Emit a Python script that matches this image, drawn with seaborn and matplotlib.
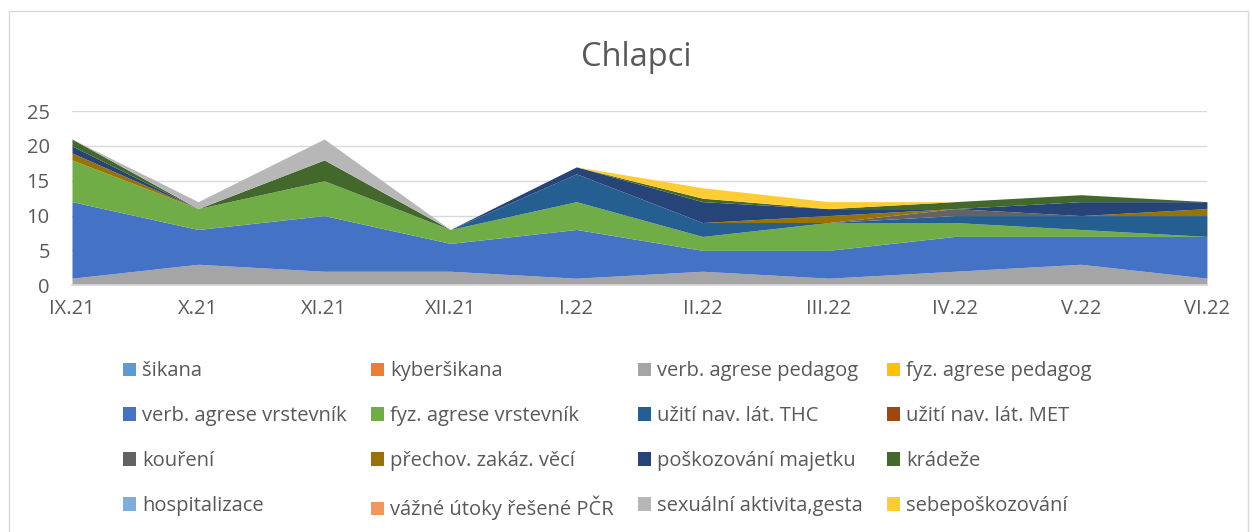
import matplotlib
matplotlib.use("Agg")
import matplotlib.pyplot as plt
import seaborn as sns
import pandas as pd
from matplotlib.patches import Rectangle

# data
months = ["IX.21", "X.21", "XI.21", "XII.21", "I.22", "II.22", "III.22", "IV.22", "V.22", "VI.22"]

sikana = [0, 0, 0, 0, 0, 0, 0, 0, 0, 0]
kybersikana = [0, 0, 0, 0, 0, 0, 0, 0, 0, 0]
verb_pedagog = [1, 3, 2, 2, 1, 2, 1, 2, 3, 1]
fyz_pedagog = [0, 0, 0, 0, 0, 0, 0, 0, 0, 0]
verb_vrstevnik = [11, 5, 8, 4, 7, 3, 4, 5, 4, 6]
fyz_vrstevnik = [6, 3, 5, 2, 4, 2, 4, 2, 1, 0]
thc = [0, 0, 0, 0, 4, 2, 0, 1, 2, 3]
met = [0, 0, 0, 0, 0, 0, 0, 0, 0, 0]
koureni = [0, 0, 0, 0, 0, 0, 0, 1, 0, 0]
prechov = [1, 0, 0, 0, 0, 0, 1, 0, 0, 1]
poskozovani = [1, 0, 0, 0, 1, 3, 1, 0, 2, 1]
kradeze = [1, 0, 3, 0, 0, 0.5, 0, 1, 1, 0]
hospitalizace = [0, 0, 0, 0, 0, 0, 0, 0, 0, 0]
vazne_utoky = [0, 0, 0, 0, 0, 0, 0, 0, 0, 0]
sexualni = [0, 1, 3, 0, 0, 0, 0, 0, 0, 0]
sebeposkozovani = [0, 0, 0, 0, 0, 1.5, 1, 0, 0, 0]

labels = ["šikana", "kyberšikana", "verb. agrese pedagog", "fyz. agrese pedagog",
          "verb. agrese vrstevník", "fyz. agrese vrstevník", "užití nav. lát. THC", "užití nav. lát. MET",
          "kouření", "přechov. zakáz. věcí", "poškozování majetku", "krádeže",
          "hospitalizace", "vážné útoky řešené PČR", "sexuální aktivita,gesta", "sebepoškozování"]
series = [sikana, kybersikana, verb_pedagog, fyz_pedagog,
          verb_vrstevnik, fyz_vrstevnik, thc, met,
          koureni, prechov, poskozovani, kradeze,
          hospitalizace, vazne_utoky, sexualni, sebeposkozovani]
colors = ["#5B9BD5", "#ED7D31", "#A5A5A5", "#FFC000",
          "#4472C4", "#70AD47", "#255E91", "#9E480E",
          "#636363", "#997300", "#264478", "#43682B",
          "#7CAFDD", "#F1975A", "#B7B7B7", "#FFCD33"]

df = pd.DataFrame(dict(zip(labels, series)), index=months)

sns.set_theme(style="white")
plt.rcParams["font.family"] = ["Open Sans", "DejaVu Sans"]
txt = "#595959"

fig = plt.figure(figsize=(12.52, 5.32), dpi=100)
ax = fig.add_axes([0.0575, 0.464, 0.9065, 0.327])

x = list(range(len(months)))
polys = ax.stackplot(x, [df[c].values for c in labels], colors=colors, labels=labels, linewidth=0)

ax.set_xlim(0, len(months) - 1)
ax.set_ylim(0, 25)
ax.set_yticks([0, 5, 10, 15, 20, 25])
ax.set_xticks(x)
ax.set_xticklabels(months)
ax.yaxis.grid(True, color="#d9d9d9", linewidth=1)
ax.set_axisbelow(True)
for s in ["top", "right", "left"]:
    ax.spines[s].set_visible(False)
ax.spines["bottom"].set_color("#d9d9d9")
ax.tick_params(axis="x", colors="#d9d9d9", length=5, width=1, labelcolor=txt, labelsize=14.5, pad=5)
ax.tick_params(axis="y", length=0, labelcolor=txt, labelsize=14.5, pad=16)

fig.text(0.508, 0.891, "Chlapci", ha="center", va="center", fontsize=23.5, color=txt)

# legend in row-major order like the original
ncol = 4
nrow = 4
order = [r * ncol + c for c in range(ncol) for r in range(nrow)]
h = [polys[i] for i in order]
l = [labels[i] for i in order]
fig.legend(h, l, loc="upper left", bbox_to_anchor=(0.092, 0.336), ncol=ncol, frameon=False,
           fontsize=14.5, labelcolor=txt, handlelength=0.65, handleheight=0.65, handletextpad=0.3,
           columnspacing=1.2, labelspacing=1.235, borderaxespad=0)

fig.patches.append(Rectangle((0.007, -0.01), 0.99, 0.99, transform=fig.transFigure,
                             fill=False, edgecolor="#d9d9d9", linewidth=1))

fig.savefig("out.png", dpi=100, facecolor="white")
